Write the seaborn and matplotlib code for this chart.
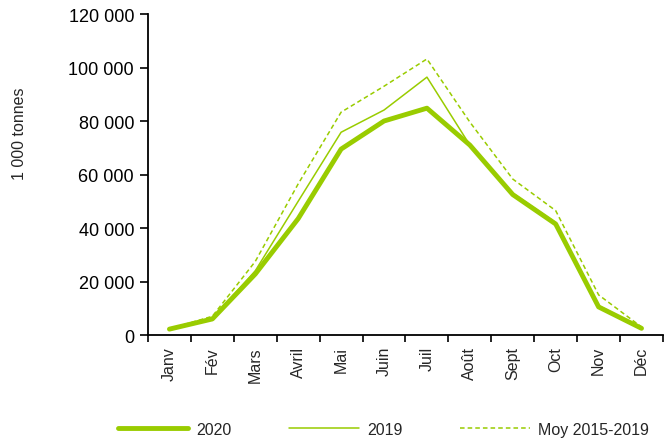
import numpy as np
import pandas as pd
import matplotlib.pyplot as plt
import seaborn as sns
from matplotlib.ticker import FuncFormatter, FixedLocator

mois = ['Janv', 'Fév', 'Mars', 'Avril', 'Mai', 'Juin', 'Juil', 'Août',
        'Sept', 'Oct', 'Nov', 'Déc']
v2020 = [2200, 6000, 22800, 43500, 69500, 80000, 84800, 71000, 52500, 41500, 10500, 2500]
v2019 = [2200, 6200, 24000, 50000, 75800, 84100, 96400, 71000, 53000, 42000, 11000, 2500]
moy = [2300, 7000, 27500, 56500, 83300, 93000, 103200, 79600, 58300, 46500, 15000, 3000]

vert = '#99cc00'

sns.set_style('ticks')
plt.rcParams['font.family'] = ['Liberation Sans', 'DejaVu Sans']

fig = plt.figure(figsize=(6.69, 4.39), dpi=100)
ax = fig.add_axes([0.2212, 0.2346, 0.7698, 0.7312])

x = np.arange(len(mois))
df = pd.DataFrame({'mois': x, '2020': v2020, '2019': v2019, 'Moy 2015-2019': moy})

sns.lineplot(data=df, x='mois', y='Moy 2015-2019', ax=ax, color=vert, lw=1.1,
             linestyle=(0, (3, 2)), label='Moy 2015-2019')
sns.lineplot(data=df, x='mois', y='2019', ax=ax, color=vert, lw=1.1, label='2019')
sns.lineplot(data=df, x='mois', y='2020', ax=ax, color=vert, lw=3.5, label='2020')

ax.set_xlim(-0.5, 11.5)
ax.set_ylim(0, 120000)
ax.set_yticks(range(0, 120001, 20000))
ax.yaxis.set_major_formatter(FuncFormatter(lambda v, p: f'{int(v):,}'.replace(',', ' ')))
ax.tick_params(axis='y', labelsize=13, length=6, width=1.2, colors='black', pad=4)

ax.set_xticks(x)
ax.set_xticklabels(mois, rotation=90, fontsize=11.5)
ax.tick_params(axis='x', which='major', length=0, pad=8)
ax.xaxis.set_minor_locator(FixedLocator(np.arange(-0.5, 12, 1)))
ax.tick_params(axis='x', which='minor', length=5, width=1.2, colors='black')

ax.set_xlabel('')
ax.set_ylabel('1 000 tonnes', fontsize=11.5)
ax.yaxis.set_label_coords(-0.235, 0.63)
for s in ['left', 'bottom']:
    ax.spines[s].set_linewidth(1.3)
    ax.spines[s].set_color('black')
sns.despine(ax=ax)

h, l = ax.get_legend_handles_labels()
ax.get_legend().remove()
order = [2, 1, 0]
fig.legend([h[i] for i in order], [l[i] for i in order], loc='center left',
           bbox_to_anchor=(0.176, 0.0205), ncol=3, frameon=False, fontsize=11.5,
           handlelength=4.4, columnspacing=3.6, handletextpad=0.5,
           borderpad=0, borderaxespad=0)

fig.savefig('out.png', dpi=100)
